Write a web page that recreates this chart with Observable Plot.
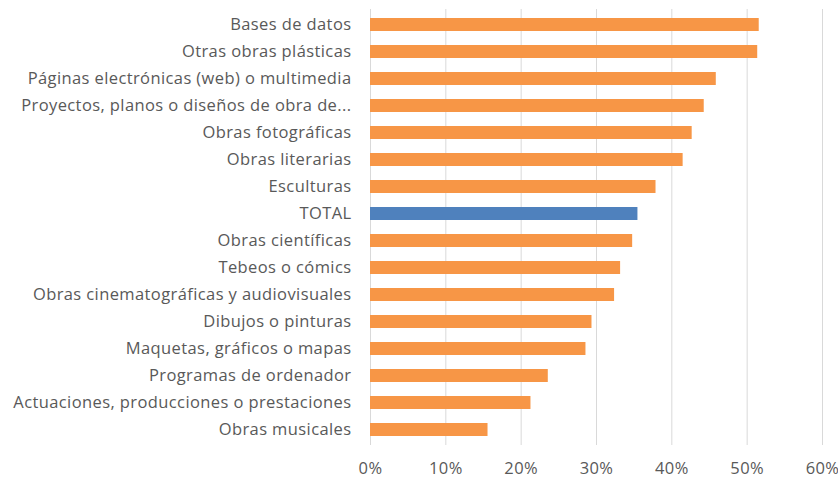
<!DOCTYPE html>
<html>
<head>
<meta charset="utf-8">
<script src="https://cdn.jsdelivr.net/npm/d3@7"></script>
<script src="https://cdn.jsdelivr.net/npm/@observablehq/plot@0.6"></script>
<style>
  html, body { margin: 0; padding: 0; background: #fff; }
  #chart svg { display: block; }
  #chart svg text { letter-spacing: 0.4px; }
</style>
</head>
<body>
<div id="chart"></div>
<script>
const categories = [
  "Bases de datos",
  "Otras obras plásticas",
  "Páginas electrónicas (web) o multimedia",
  "Proyectos, planos o diseños de obra de...",
  "Obras fotográficas",
  "Obras literarias",
  "Esculturas",
  "TOTAL",
  "Obras científicas",
  "Tebeos o cómics",
  "Obras cinematográficas y audiovisuales",
  "Dibujos o pinturas",
  "Maquetas, gráficos o mapas",
  "Programas de ordenador",
  "Actuaciones, producciones o prestaciones",
  "Obras musicales"
];
const values = [0.516, 0.514, 0.459, 0.443, 0.427, 0.415, 0.379, 0.355, 0.348, 0.332, 0.324, 0.294, 0.286, 0.236, 0.213, 0.156];
const xTicks = [0, 0.1, 0.2, 0.3, 0.4, 0.5, 0.6];

const data = categories.map((c, i) => ({category: c, value: values[i]}));

const chart = Plot.plot({
  width: 838,
  height: 479,
  marginLeft: 370,
  marginRight: 16,
  marginTop: 9,
  marginBottom: 34,
  style: {fontFamily: "'Open Sans', sans-serif", fontSize: "17px", color: "#595959", background: "#fff", overflow: "visible"},
  x: {domain: [0, 0.6], label: null},
  y: {domain: categories, paddingInner: 0.52, paddingOuter: 0.26, label: null},
  marks: [
    Plot.gridX(xTicks, {stroke: "#d9d9d9", strokeOpacity: 1, strokeWidth: 1}),
    Plot.barX(data, {
      x: "value",
      y: "category",
      fill: d => d.category === "TOTAL" ? "#4F81BD" : "#F79646"
    }),
    Plot.axisY({tickSize: 0, tickPadding: 19, fill: "#595959", fontSize: 16.5, label: null}),
    Plot.axisX(xTicks, {tickSize: 0, tickPadding: 17, tickFormat: d3.format(".0%"), fill: "#595959", fontSize: 16.5, label: null})
  ]
});
document.getElementById("chart").appendChild(chart);
</script>
</body>
</html>
